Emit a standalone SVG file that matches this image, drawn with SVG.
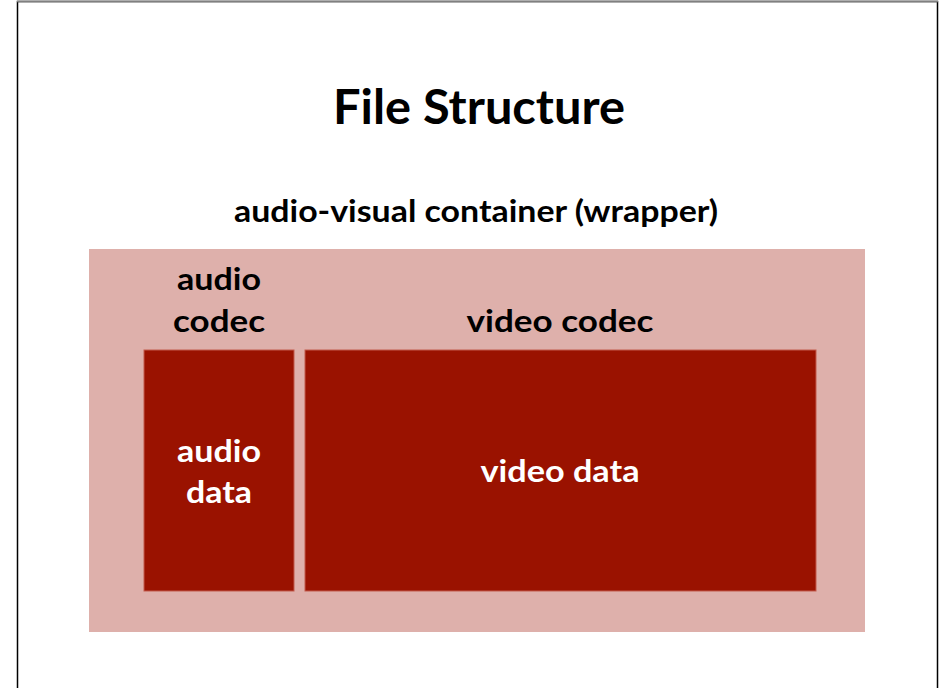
<svg xmlns="http://www.w3.org/2000/svg" width="943" height="688" viewBox="0 0 943 688">
<style>
.t{font-family:Lato,"Open Sans","Liberation Sans",sans-serif;text-anchor:middle}
.b{fill:#000;font-weight:bold;font-size:31px}
.w{fill:#fff;font-weight:bold;font-size:31px}
.dark{fill:#9A1200;stroke:#C25A4C;stroke-width:1}
</style>
<rect x="17.5" y="1.5" width="920" height="690" fill="#fff" stroke="#000" stroke-width="1.5"/>
<line x1="17" y1="1.5" x2="938" y2="1.5" stroke="#808080" stroke-width="1.5"/>
<g id="title"><text class="t" x="479" y="124" font-size="47" font-weight="bold" fill="#000" textLength="292" lengthAdjust="spacingAndGlyphs">File Structure</text></g>
<g id="container">
<rect x="89" y="249" width="776" height="383" fill="#DEB0AB"/>
<text class="t b" x="476" y="222" textLength="484" lengthAdjust="spacingAndGlyphs">audio-visual container (wrapper)</text>
</g>
<g id="audio">
<text class="t b" x="219" y="290" textLength="84" lengthAdjust="spacingAndGlyphs">audio</text>
<text class="t b" x="219" y="332" textLength="92" lengthAdjust="spacingAndGlyphs">codec</text>
<rect class="dark" x="144" y="350" width="150" height="241"/>
<text class="t w" x="219" y="462" textLength="84" lengthAdjust="spacingAndGlyphs">audio</text>
<text class="t w" x="219" y="503" textLength="66" lengthAdjust="spacingAndGlyphs">data</text>
</g>
<g id="video">
<text class="t b" x="560" y="332" textLength="187" lengthAdjust="spacingAndGlyphs">video codec</text>
<rect class="dark" x="305" y="350" width="511" height="241"/>
<text class="t w" x="560" y="482" textLength="159" lengthAdjust="spacingAndGlyphs">video data</text>
</g>
<g id="connectors"/>
</svg>
